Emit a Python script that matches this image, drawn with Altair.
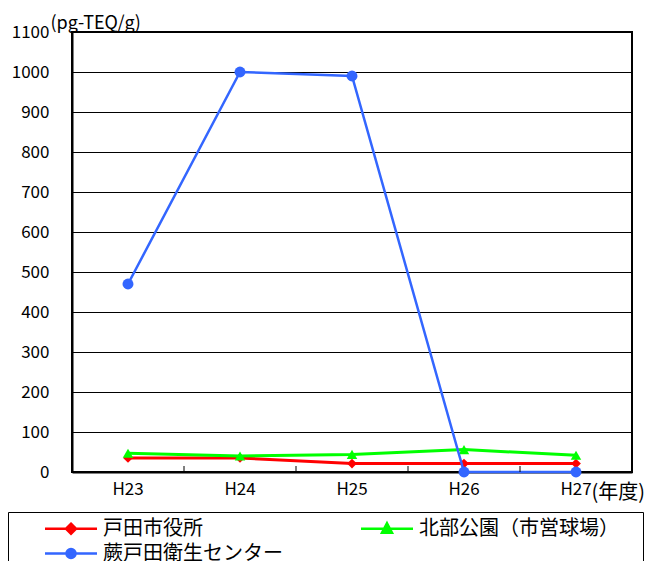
import altair as alt
import pandas as pd

# ---- data ----
years = ["H23", "H24", "H25", "H26", "H27"]
series_names = ["戸田市役所", "北部公園（市営球場）", "蕨戸田衛生センター"]
toda_city_hall = [35, 35, 21, 21, 21]
hokubu_park = [47, 40, 44, 56, 42]
warabi_toda_center = [470, 1000, 990, 0, 0]
y_ticks = list(range(0, 1101, 100))
tick_boundaries = years[1:]

# ---- styles ----
colors = ["#FF0000", "#00FF00", "#3366FF"]
marker_shapes = ["diamond", "triangle-up", "circle"]
marker_sizes = [95, 110, 120]
line_widths = [3, 3, 2.5]
FONT = "Noto Sans CJK JP"

rows = []
for name, vals in zip(series_names, [toda_city_hall, hokubu_park, warabi_toda_center]):
    for yr, v in zip(years, vals):
        rows.append({"year": yr, "series": name, "value": v})
df = pd.DataFrame(rows)
df_ticks = pd.DataFrame({"year": tick_boundaries})

x_scale = alt.Scale(type="band", domain=years, paddingInner=0, paddingOuter=0)
y_scale = alt.Scale(domain=[0, 1100], nice=False)
color_scale = alt.Scale(domain=series_names, range=colors)
stroke_scale = alt.Scale(domain=series_names, range=colors)

# legend symbols: line + marker (custom paths, unit = sqrt(size)/2 = 10 px)
legend_paths = [
    "M-2.6,0L2.6,0M0,-0.5L0.5,0L0,0.5L-0.5,0Z",
    "M-2.6,0L2.6,0M0,-0.55L0.5,0.4L-0.5,0.4ZM24.6,0",
    "M-2.6,0L2.6,0M-0.45,0A0.45,0.45 0 1,0 0.45,0A0.45,0.45 0 1,0 -0.45,0Z",
]
legend_shape_scale = alt.Scale(domain=series_names, range=legend_paths)

legend = alt.Legend(
    title=None,
    orient="none",
    direction="horizontal",
    legendX=-64,
    legendY=480,
    columns=2,
    columnPadding=46,
    rowPadding=3,
    padding=5,
    strokeColor="black",
    fillColor="white",
    labelFont=FONT,
    labelFontSize=20,
    labelColor="black",
    labelLimit=400,
    labelOffset=20.5,
    symbolSize=400,
    symbolOffset=46.5,
    symbolStrokeWidth=2.5,
    symbolOpacity=1,
)

x_axis = alt.Axis(
    title="(年度)",
    titleFont=FONT,
    titleFontSize=20,
    titleFontWeight="normal",
    titleColor="black",
    titleAngle=0,
    titleAlign="left",
    titleBaseline="middle",
    titleX=519,
    titleY=20,
    labelFont=FONT,
    labelFontSize=17,
    labelColor="black",
    labelAngle=0,
    labelPadding=9,
    bandPosition=0.5,
    ticks=False,
    grid=False,
    domainColor="black",
    domainWidth=2,
)
y_axis = alt.Axis(
    values=y_ticks,
    format="d",
    labelOverlap=False,
    title="(pg-TEQ/g)",
    titleFont=FONT,
    titleFontSize=18,
    titleFontWeight="normal",
    titleColor="black",
    titleAngle=0,
    titleAlign="left",
    titleBaseline="middle",
    titleX=-22,
    titleY=-9,
    labelFont=FONT,
    labelFontSize=17,
    labelColor="black",
    labelPadding=23,
    ticks=False,
    grid=True,
    gridColor="black",
    gridWidth=1,
    gridOpacity=1,
    domainColor="black",
    domainWidth=2,
)

x_enc = alt.X("year:N", sort=years, scale=x_scale, bandPosition=0.5, axis=x_axis)
y_enc = alt.Y("value:Q", scale=y_scale, axis=y_axis)

series_layers = []
for name, col, shp, sz, lw in zip(series_names, colors, marker_shapes, marker_sizes, line_widths):
    base = alt.Chart(df).transform_filter(alt.datum.series == name)
    series_layers.append(
        base.mark_line(strokeWidth=lw, color=col).encode(x=x_enc, y=y_enc)
    )
    series_layers.append(
        base.mark_point(filled=True, opacity=1, shape=shp, size=sz, color=col).encode(
            x=x_enc, y=y_enc
        )
    )

# invisible layer (size 0) that only supplies the combined legend
legend_layer = alt.Chart(df).mark_point(filled=True, size=0).encode(
    x=x_enc,
    y=y_enc,
    color=alt.Color("series:N", scale=color_scale, legend=legend),
    stroke=alt.Stroke("series:N", scale=stroke_scale, legend=legend),
    shape=alt.Shape("series:N", scale=legend_shape_scale, legend=legend),
)

ticks = alt.Chart(df_ticks).mark_rule(color="black", strokeWidth=1).encode(
    x=alt.X("year:N", sort=years, scale=x_scale, bandPosition=0, axis=x_axis),
    y=alt.Y(datum=0, scale=y_scale, axis=y_axis),
    y2=alt.datum(15),
)

chart = (
    alt.layer(*series_layers, ticks, legend_layer)
    .properties(
        width=560,
        height=440,
        autosize=alt.AutoSizeParams(type="none"),
        padding={"left": 64, "top": 24, "right": 20, "bottom": 110},
    )
    .configure_view(stroke="black", strokeWidth=2)
)

chart.save("out.html", embed_options={"renderer": "svg", "actions": False})
